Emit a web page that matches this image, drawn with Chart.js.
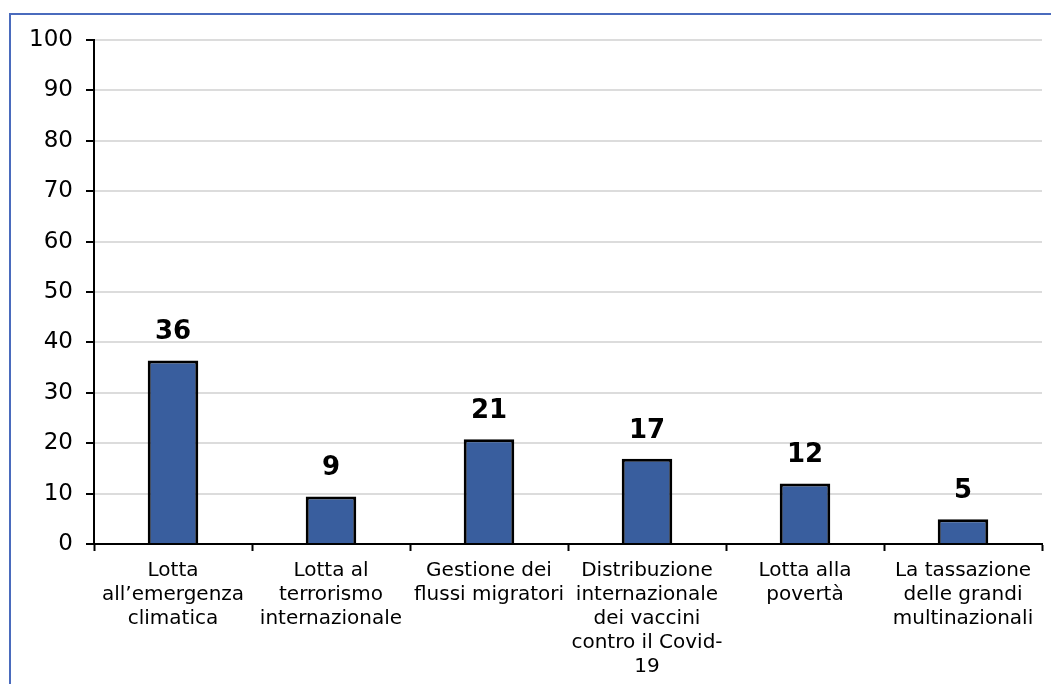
<!DOCTYPE html>
<html>
<head>
<meta charset="utf-8">
<script src="https://cdn.jsdelivr.net/npm/chart.js@4.4.0/dist/chart.umd.min.js"></script>
<style>
    body { margin: 0; background: #fff; }
    #wrap { position: relative; width: 1051px; height: 684px; overflow: hidden; }
    #frame { position: absolute; left: 9px; top: 13px; width: 1100px; height: 700px;
             border-left: 2px solid #4a6bbd; border-top: 2px solid #4a6bbd; }
    canvas { position: absolute; left: 0; top: 0; }
</style>
</head>
<body>
<div id="wrap">
    <div id="frame"></div>
    <canvas id="chart" width="1051" height="684"></canvas>
</div>
<script>
// categories (multi-line labels)
const categories = [
    ['Lotta', 'all’emergenza', 'climatica'],
    ['Lotta al', 'terrorismo', 'internazionale'],
    ['Gestione dei', 'flussi migratori'],
    ['Distribuzione', 'internazionale', 'dei vaccini', 'contro il Covid-', '19'],
    ['Lotta alla', 'povertà'],
    ['La tassazione', 'delle grandi', 'multinazionali']
];
// bar heights; labels show them rounded
const values = [36.4, 9.4, 20.8, 16.9, 12, 4.9];
const yMin = 0;
const yMax = 100;
const yStep = 10;

const FONT = "'DejaVu Sans', sans-serif";

// Draw the value above each bar
const valueLabels = {
    id: 'valueLabels',
    afterDatasetsDraw(chart) {
        const ctx = chart.ctx;
        const meta = chart.getDatasetMeta(0);
        ctx.save();
        ctx.fillStyle = '#000';
        ctx.font = 'bold 26px ' + FONT;
        ctx.textAlign = 'center';
        ctx.textBaseline = 'bottom';
        meta.data.forEach((bar, i) => {
            ctx.fillText(String(Math.round(values[i])), bar.x, bar.y - 15);
        });
        ctx.restore();
    }
};

new Chart(document.getElementById('chart'), {
    type: 'bar',
    data: {
        labels: categories,
        datasets: [{
            data: values,
            backgroundColor: '#395e9e',
            borderColor: '#000',
            borderWidth: 3,
            barPercentage: 0.32,
            categoryPercentage: 1
        }]
    },
    options: {
        responsive: false,
        animation: false,
        layout: {
            padding: { left: 0, top: 40, right: 9, bottom: 0 }
        },
        plugins: {
            legend: { display: false },
            tooltip: { enabled: false }
        },
        scales: {
            x: {
                offset: true,
                grid: {
                    offset: true,
                    drawOnChartArea: false,
                    drawTicks: true,
                    tickLength: 7,
                    tickColor: '#000',
                    tickWidth: 2
                },
                border: { color: '#000', width: 2 },
                ticks: {
                    color: '#000',
                    font: { family: FONT, size: 20, lineHeight: 1.2 },
                    maxRotation: 0,
                    autoSkip: false,
                    padding: 8
                },
                afterFit(scale) { scale.height = 684 - 544; }
            },
            y: {
                min: yMin,
                max: yMax,
                grid: {
                    color: '#dcdcdc',
                    lineWidth: 2,
                    tickLength: 8,
                    tickColor: '#000',
                    tickWidth: 2
                },
                border: { color: '#000', width: 2 },
                ticks: {
                    stepSize: yStep,
                    color: '#000',
                    font: { family: FONT, size: 23 },
                    padding: 13
                },
                afterFit(scale) { scale.width = 94; }
            }
        }
    },
    plugins: [valueLabels]
});
</script>
</body>
</html>
